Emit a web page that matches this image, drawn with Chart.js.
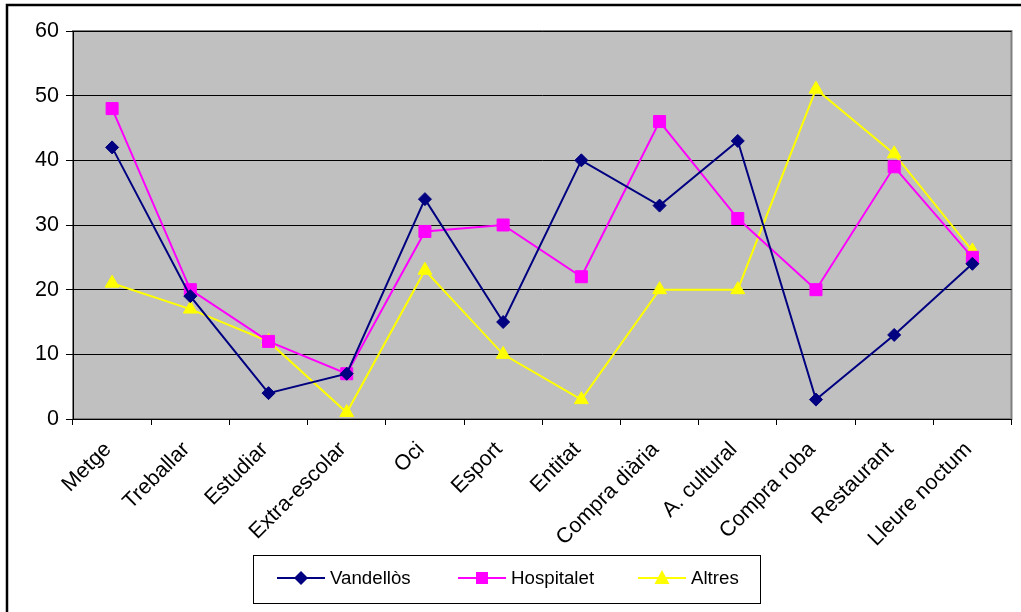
<!DOCTYPE html>
<html>
<head>
<meta charset="utf-8">
<script src="https://cdn.jsdelivr.net/npm/chart.js@4/dist/chart.umd.min.js"></script>
<style>
html,body{margin:0;padding:0;background:#fff;}
#wrap{width:1021px;height:612px;position:relative;}
</style>
</head>
<body>
<div id="wrap"><canvas id="c" width="1021" height="612"></canvas></div>
<script>
const categories = ["Metge","Treballar","Estudiar","Extra-escolar","Oci","Esport","Entitat","Compra diària","A. cultural","Compra roba","Restaurant","Lleure noctum"];
const vandellos = [42,19,4,7,34,15,40,33,43,3,13,24];
const hospitalet = [48,20,12,7,29,30,22,46,31,20,39,25];
const altres = [21,17,12,1,23,10,3,20,20,51,41,26];
const seriesNames = ["Vandellòs","Hospitalet","Altres"];
const yTicks = {min:0, max:60, step:10};

const FONT = "'Liberation Sans', Arial, sans-serif";
const FS = 21.5;
const LFS = 18.7;

const bgPlugin = {
  id:'bg',
  beforeDraw(chart){
    const {ctx, chartArea:a} = chart;
    ctx.save();
    ctx.fillStyle = '#fff';
    ctx.fillRect(0,0,chart.width,chart.height);
    ctx.strokeStyle = '#000';
    ctx.lineWidth = 2.5;
    ctx.beginPath();
    ctx.moveTo(7, chart.height+2);
    ctx.lineTo(7, 5);
    ctx.lineTo(chart.width+2, 5);
    ctx.stroke();
    ctx.fillStyle = '#C0C0C0';
    ctx.fillRect(a.left, a.top, a.right-a.left, a.bottom-a.top);
    ctx.strokeStyle = '#808080';
    ctx.lineWidth = 2;
    ctx.strokeRect(a.left, a.top, a.right-a.left, a.bottom-a.top);
    ctx.restore();
  }
};

const legendPlugin = {
  id:'customLegend',
  afterDraw(chart){
    const ctx = chart.ctx;
    ctx.save();
    ctx.strokeStyle = '#000';
    ctx.lineWidth = 1;
    ctx.strokeRect(253.5, 555.5, 507, 48);
    const xs = [277, 458, 638];
    const y = 578;
    chart.data.datasets.forEach((ds,i)=>{
      const x0 = xs[i];
      ctx.strokeStyle = ds.borderColor;
      ctx.lineWidth = 2;
      ctx.beginPath();
      ctx.moveTo(x0, y); ctx.lineTo(x0+48, y); ctx.stroke();
      ctx.fillStyle = ds.pointBackgroundColor;
      const cx = x0+24;
      ctx.beginPath();
      if (ds.pointStyle === 'rectRot') {
        ctx.moveTo(cx, y-7); ctx.lineTo(cx+7, y); ctx.lineTo(cx, y+7); ctx.lineTo(cx-7, y); ctx.closePath();
      } else if (ds.pointStyle === 'rect') {
        ctx.rect(cx-6, y-6, 12, 12);
      } else {
        ctx.moveTo(cx, y-8); ctx.lineTo(cx+7.5, y+6); ctx.lineTo(cx-7.5, y+6); ctx.closePath();
      }
      ctx.fill();
      ctx.fillStyle = '#000';
      ctx.font = LFS + 'px ' + FONT;
      ctx.textBaseline = 'middle';
      ctx.textAlign = 'left';
      ctx.fillText(ds.label, x0+53, y+1);
    });
    ctx.restore();
  }
};

function ds(label, data, color, style, radius){
  return {
    label, data,
    borderColor: color, backgroundColor: color,
    pointBackgroundColor: color, pointBorderColor: color,
    pointStyle: style, pointRadius: radius, pointHoverRadius: radius,
    borderWidth: 2, pointBorderWidth: 1, tension: 0, fill: false
  };
}

new Chart(document.getElementById('c'), {
  type:'line',
  data:{
    labels: categories,
    datasets:[
      ds(seriesNames[0], vandellos, '#000080', 'rectRot', 6.5),
      ds(seriesNames[1], hospitalet, '#FF00FF', 'rect', 8.5),
      ds(seriesNames[2], altres, '#FFFF00', 'triangle', 8)
    ]
  },
  options:{
    responsive:false,
    animation:false,
    devicePixelRatio:1,
    layout:{padding:{left:7, top:31, right:5, bottom:0}},
    plugins:{legend:{display:false}, tooltip:{enabled:false}},
    scales:{
      x:{
        type:'category',
        offset:true,
        grid:{offset:true, drawOnChartArea:false, drawTicks:true, tickLength:6, color:'#000', lineWidth:1},
        border:{color:'#000', width:1},
        ticks:{color:'#000', font:{family:FONT, size:FS}, minRotation:45, maxRotation:45, autoSkip:false, padding:12, labelOffset:-4},
        afterFit(scale){ scale.height = 193; }
      },
      y:{
        min:yTicks.min, max:yTicks.max,
        grid:{color:'#000', lineWidth:1, drawTicks:true, tickLength:7},
        border:{color:'#000', width:1},
        ticks:{stepSize:yTicks.step, color:'#000', font:{family:FONT, size:FS}, padding:7},
        afterFit(scale){ scale.width = 66; }
      }
    }
  },
  plugins:[bgPlugin, legendPlugin]
});
</script>
</body>
</html>
